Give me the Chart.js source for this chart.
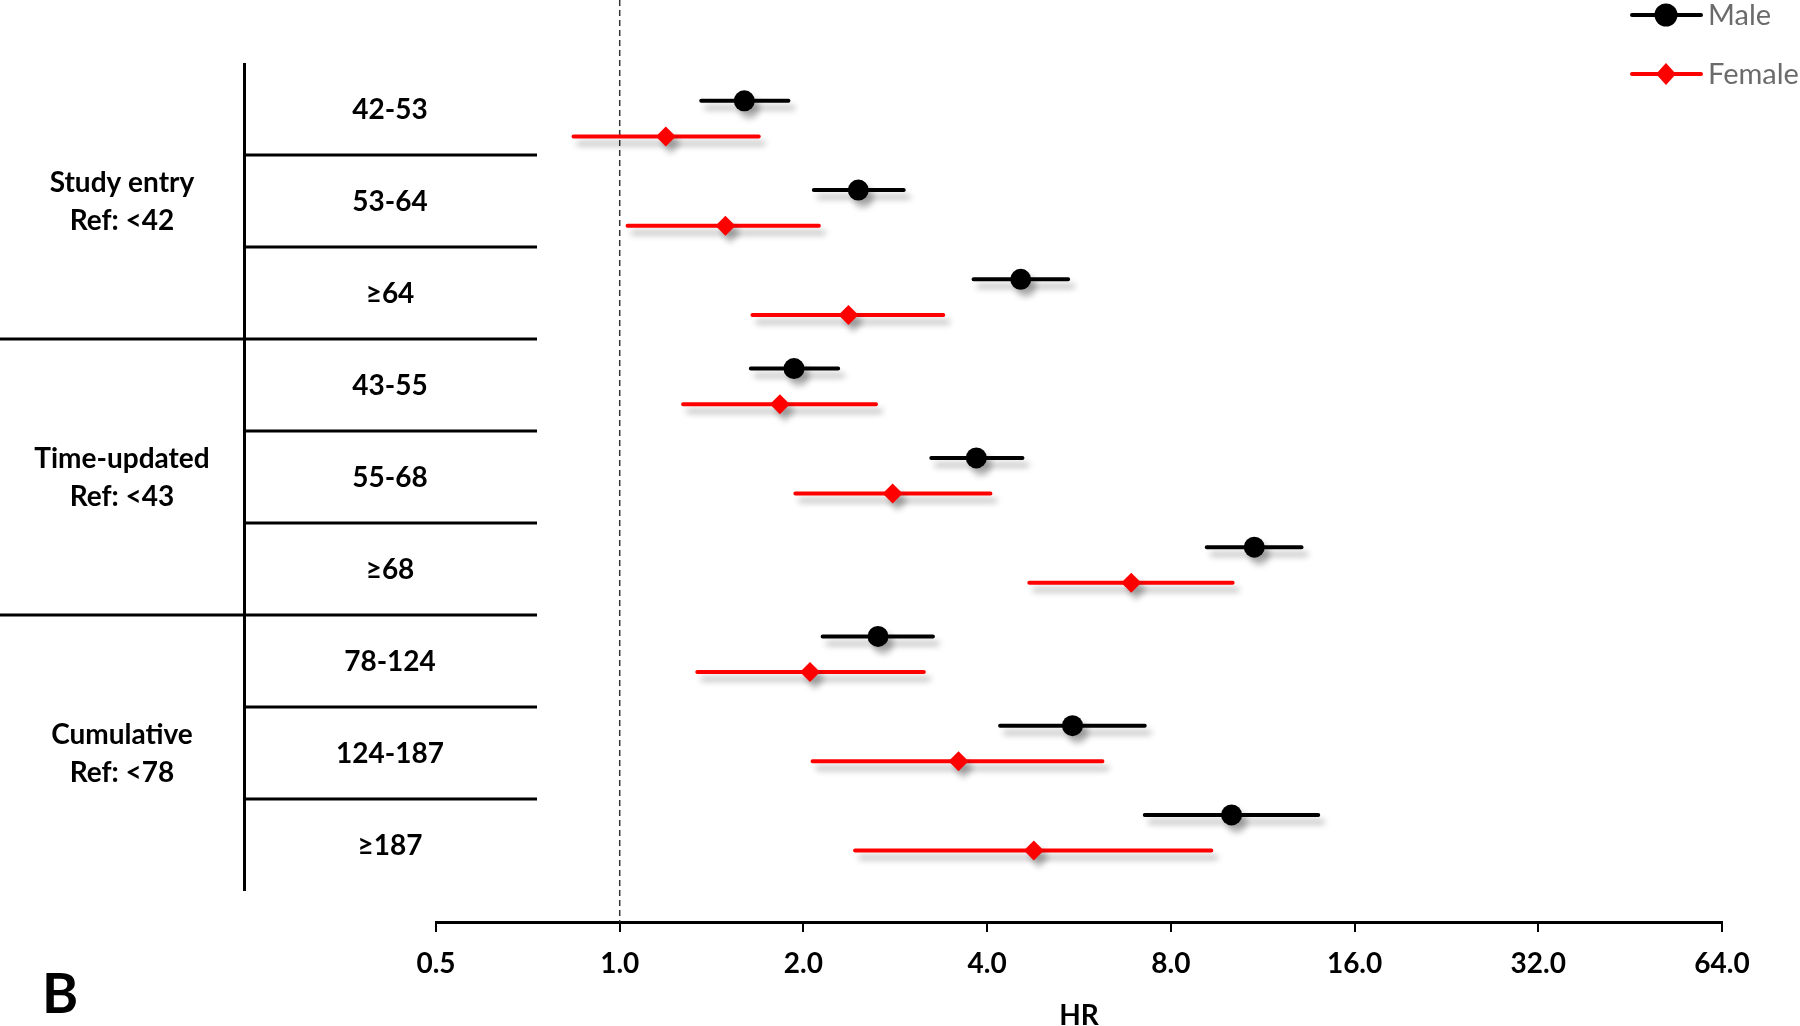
<!DOCTYPE html>
<html>
<head>
<meta charset="utf-8">
<script src="https://cdn.jsdelivr.net/npm/chart.js@4.4.1/dist/chart.umd.min.js"></script>
<style>
  body { margin: 0; background: #fff; }
  canvas { display: block; }
</style>
</head>
<body>
<canvas id="forest" width="1800" height="1026"></canvas>
<script>
// rows of the table, top to bottom
var rowLabels = ["42-53", "53-64", "\u226564", "43-55", "55-68", "\u226568", "78-124", "124-187", "\u2265187"];
var groupTitles = ["Study entry", "Time-updated", "Cumulative"];
var groupRefs = ["Ref: <42", "Ref: <43", "Ref: <78"];

// hazard ratios + 95% CI
var maleHR   = [1.60, 2.46, 4.54, 1.93, 3.84, 10.96, 2.65, 5.52, 10.06];
var maleLow  = [1.36, 2.08, 3.80, 1.64, 3.24, 9.16, 2.15, 4.20, 7.25];
var maleHigh = [1.89, 2.92, 5.43, 2.28, 4.57, 13.10, 3.26, 7.25, 13.95];

var femaleHR   = [1.19, 1.49, 2.37, 1.83, 2.80, 6.89, 2.05, 3.59, 4.77];
var femaleLow  = [0.84, 1.03, 1.65, 1.27, 1.94, 4.69, 1.34, 2.07, 2.43];
var femaleHigh = [1.69, 2.12, 3.39, 2.63, 4.05, 10.10, 3.15, 6.18, 9.32];

var hrTicks = [0.5, 1, 2, 4, 8, 16, 32, 64];
var refLine = 1;

var femaleShift = 0.4;   // female row sits a bit under the male one
var FONT = "Lato, 'Open Sans', sans-serif";

function points(vals, shift) {
  return vals.map(function (v, i) { return { x: v, y: i + shift }; });
}
function ciSegments(lo, hi, shift) {
  var out = [];
  lo.forEach(function (l, i) {
    out.push({ x: l, y: i + shift });
    out.push({ x: hi[i], y: i + shift });
    out.push({ x: hi[i], y: null });   // break the line
  });
  return out;
}

var shadowPlugin = {
  id: 'shadow',
  beforeDatasetDraw: function (chart, args) {
    if (!chart.data.datasets[args.index].shadow) return;
    var ctx = chart.ctx;
    ctx.save();
    ctx.shadowColor = 'rgba(0,0,0,0.30)';
    ctx.shadowBlur = 6;
    ctx.shadowOffsetX = 5;
    ctx.shadowOffsetY = 7;
  },
  afterDatasetDraw: function (chart, args) {
    if (chart.data.datasets[args.index].shadow) chart.ctx.restore();
  }
};

// left table, legend and panel letter
var decorPlugin = {
  id: 'decor',
  afterDraw: function (chart) {
    var ctx = chart.ctx;
    var top = 63, rowH = 92, vx = 244.5, right = 537;
    ctx.save();
    ctx.strokeStyle = '#000';
    ctx.lineWidth = 3;
    ctx.beginPath();
    ctx.moveTo(vx, top);
    ctx.lineTo(vx, top + rowH * rowLabels.length);
    for (var k = 1; k < rowLabels.length; k++) {
      var y = top + rowH * k;
      ctx.moveTo(k % 3 === 0 ? 0 : vx, y);
      ctx.lineTo(right, y);
    }
    ctx.stroke();

    ctx.fillStyle = '#000';
    ctx.textAlign = 'center';
    ctx.textBaseline = 'middle';
    ctx.font = 'bold 28px ' + FONT;
    rowLabels.forEach(function (t, i) {
      ctx.fillText(t, 390, top + rowH * (i + 0.5) + 1);
    });
    groupTitles.forEach(function (t, g) {
      var c = top + rowH * (3 * g + 1.5);
      ctx.fillText(t, 122, c - 18);
      ctx.fillText(groupRefs[g], 122, c + 20);
    });

    // legend
    var items = [
      { label: 'Male', color: '#000', y: 15, shape: 'circle' },
      { label: 'Female', color: '#ff0000', y: 74, shape: 'diamond' }
    ];
    items.forEach(function (it) {
      ctx.strokeStyle = it.color;
      ctx.fillStyle = it.color;
      ctx.lineWidth = 4;
      ctx.lineCap = 'round';
      ctx.beginPath();
      ctx.moveTo(1632, it.y);
      ctx.lineTo(1701, it.y);
      ctx.stroke();
      ctx.beginPath();
      if (it.shape === 'circle') {
        ctx.arc(1666, it.y, 11.5, 0, Math.PI * 2);
      } else {
        ctx.moveTo(1666, it.y - 11);
        ctx.lineTo(1676, it.y);
        ctx.lineTo(1666, it.y + 11);
        ctx.lineTo(1656, it.y);
        ctx.closePath();
      }
      ctx.fill();
      ctx.fillStyle = '#6b6b6b';
      ctx.textAlign = 'left';
      ctx.font = '29px ' + FONT;
      ctx.fillText(it.label, 1708, it.y + 1);
    });

    ctx.fillStyle = '#000';
    ctx.textBaseline = 'alphabetic';
    ctx.font = 'bold 55px ' + FONT;
    ctx.fillText('B', 42, 1013);
    ctx.restore();
  }
};

var data = {
  datasets: [
    {
      label: 'HR = 1',
      data: [{ x: refLine, y: -1.13 }, { x: refLine, y: 9.2 }],
      showLine: true,
      borderColor: '#333',
      borderWidth: 1.5,
      borderDash: [6, 4],
      pointRadius: 0,
      order: 6
    },
    {
      label: 'Female CI',
      data: ciSegments(femaleLow, femaleHigh, femaleShift),
      showLine: true,
      spanGaps: false,
      borderColor: '#ff0000',
      borderWidth: 4,
      borderCapStyle: 'round',
      pointRadius: 0,
      shadow: true,
      order: 5
    },
    {
      label: 'Male CI',
      data: ciSegments(maleLow, maleHigh, 0),
      showLine: true,
      spanGaps: false,
      borderColor: '#000',
      borderWidth: 4,
      borderCapStyle: 'round',
      pointRadius: 0,
      shadow: true,
      order: 4
    },
    {
      label: 'Female',
      data: points(femaleHR, femaleShift),
      pointStyle: 'rectRot',
      pointRadius: 10,
      backgroundColor: '#ff0000',
      borderColor: '#ff0000',
      borderWidth: 0,
      shadow: true,
      order: 3
    },
    {
      label: 'Male',
      data: points(maleHR, 0),
      pointStyle: 'circle',
      pointRadius: 10.5,
      backgroundColor: '#000',
      borderColor: '#000',
      borderWidth: 0,
      shadow: true,
      order: 2
    }
  ]
};

var config = {
  type: 'scatter',
  data: data,
  options: {
    responsive: false,
    animation: false,
    events: [],
    layout: { autoPadding: false, padding: { left: 436, right: 78, top: 0, bottom: 0 } },
    plugins: {
      legend: { display: false },
      tooltip: { enabled: false }
    },
    scales: {
      x: {
        type: 'logarithmic',
        position: 'bottom',
        min: 0.5,
        max: 64,
        afterBuildTicks: function (scale) {
          scale.ticks = hrTicks.map(function (v) { return { value: v }; });
        },
        afterFit: function (scale) { scale.height = 104; },
        grid: { drawOnChartArea: false, drawTicks: true, tickLength: 10, color: '#000', lineWidth: 2 },
        border: { display: true, color: '#000', width: 3 },
        ticks: {
          autoSkip: false,
          maxRotation: 0,
          padding: 15,
          color: '#000',
          font: { family: FONT, size: 28, weight: 'bold' },
          callback: function (v) { return Number(v).toFixed(1); }
        },
        title: {
          display: true,
          text: 'HR',
          color: '#000',
          padding: 0,
          font: { family: FONT, size: 28, weight: 'bold', lineHeight: 0.7 }
        }
      },
      y: {
        type: 'linear',
        reverse: true,
        min: -1.13,
        max: 9.2,
        display: false
      }
    }
  },
  plugins: [shadowPlugin, decorPlugin]
};

var forestChart = new Chart(document.getElementById('forest'), config);
</script>
</body>
</html>
